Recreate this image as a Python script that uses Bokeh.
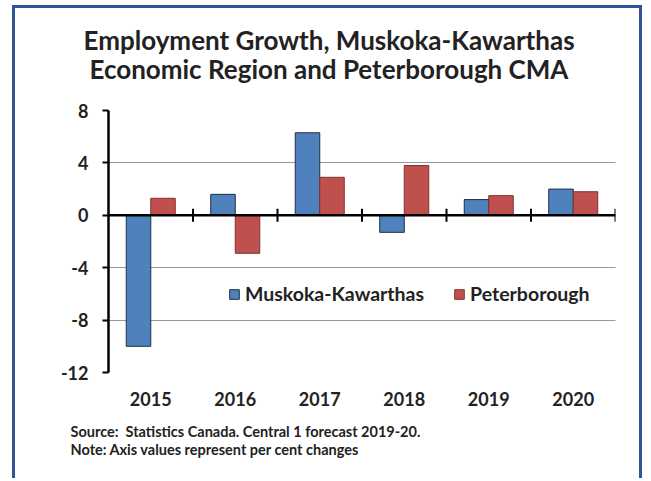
from bokeh.plotting import figure
from bokeh.models import (ColumnDataSource, FactorRange, FixedTicker, Span, Title,
                          Legend, LegendItem)
from bokeh.transform import dodge
from bokeh.embed import file_html
from bokeh.resources import INLINE

# Employment growth, per cent change
years = ["2015", "2016", "2017", "2018", "2019", "2020"]
muskoka = [-10.0, 1.6, 6.3, -1.3, 1.2, 2.0]
peterborough = [1.3, -2.9, 2.9, 3.8, 1.5, 1.8]
y_ticks = [-12, -8, -4, 0, 4, 8]
series_names = ["Muskoka-Kawarthas", "Peterborough"]
title_lines = ["Employment Growth, Muskoka-Kawarthas",
               "Economic Region and Peterborough CMA"]
notes = ["Source:\u00a0 Statistics Canada. Central 1 forecast 2019-20.",
         "Note: Axis values represent per cent changes"]

FONT = "Lato"
INK = "#222222"
BLUE, RED = "#4F81BD", "#C0504D"
FRAME_BLUE = "#2F5597"

# canvas sits inside an open-bottomed blue frame
W, H = 630, 473
LEFT, RIGHT, TOP, BOTTOM = 93, 600, 102, 364
Y0, Y1 = -12, 8

src = ColumnDataSource(dict(year=years, mk=muskoka, pb=peterborough))

p = figure(width=W, height=H, x_range=FactorRange(*years, range_padding=0),
           y_range=(Y0, Y1), output_backend="svg", toolbar_location=None,
           min_border_left=LEFT, min_border_right=W - RIGHT,
           min_border_top=TOP, min_border_bottom=H - BOTTOM)
p.margin = (5, 0, 0, 12)
p.styles = {"border-top": f"3px solid {FRAME_BLUE}",
            "border-left": f"3px solid {FRAME_BLUE}",
            "border-right": f"3px solid {FRAME_BLUE}"}
p.outline_line_color = None
p.background_fill_color = "white"
p.border_fill_color = "white"

bw = 0.29
r1 = p.vbar(x=dodge("year", -bw / 2, range=p.x_range), top="mk", bottom=0, width=bw,
            source=src, fill_color=BLUE, line_color="#1F2D44", line_width=1)
r2 = p.vbar(x=dodge("year", bw / 2, range=p.x_range), top="pb", bottom=0, width=bw,
            source=src, fill_color=RED, line_color="#7A3432", line_width=1)

# zero line with category separators
p.add_layout(Span(location=0, dimension="width", line_color="black", line_width=2.5))
bounds = list(range(1, len(years) + 1))
p.segment(x0=bounds, x1=bounds, y0=[-0.5] * len(bounds), y1=[0.5] * len(bounds),
          line_color="black", line_width=2)

# y axis
ya = p.yaxis[0]
ya.ticker = FixedTicker(ticks=y_ticks)
ya.major_label_overrides = {t: str(t) for t in y_ticks}
ya.axis_line_width = 2.5
ya.axis_line_color = "black"
ya.major_tick_out = 6
ya.major_tick_in = 0
ya.major_tick_line_width = 2
ya.minor_tick_line_color = None
ya.major_label_text_font = FONT
ya.major_label_text_font_style = "bold"
ya.major_label_text_font_size = "18px"
ya.major_label_text_color = INK
ya.major_label_standoff = 14

p.ygrid.ticker = FixedTicker(ticks=y_ticks)
p.ygrid.grid_line_color = "#333333"
p.ygrid.grid_line_dash = "1 1"
p.ygrid.grid_line_width = 1
p.xgrid.grid_line_color = None

# x axis: year labels only
xa = p.xaxis[0]
xa.axis_line_color = None
xa.major_tick_line_color = None
xa.minor_tick_line_color = None
xa.major_label_text_font = FONT
xa.major_label_text_font_style = "bold"
xa.major_label_text_font_size = "18px"
xa.major_label_text_color = INK
xa.major_label_standoff = 13

legend = Legend(items=[LegendItem(label=series_names[0], renderers=[r1]),
                       LegendItem(label=series_names[1], renderers=[r2])],
                orientation="horizontal", location=(120, 67),
                label_text_font=FONT, label_text_font_style="bold",
                label_text_font_size="19.5px", label_text_color=INK,
                glyph_width=12, glyph_height=12, label_standoff=5, spacing=29,
                padding=0, margin=0, border_line_color=None, background_fill_alpha=0)
p.add_layout(legend)

# two-line title, added from the frame outward
title_offsets = [-25, -19]
title_standoffs = [-62, 52]
for t, off, so in reversed(list(zip(title_lines, title_offsets, title_standoffs))):
    p.add_layout(Title(text=t, align="left", offset=off, text_font=FONT,
                       text_font_style="bold", text_font_size="26px",
                       text_color=INK, standoff=so), "above")

# source and note lines under the year labels
note_standoffs = [24, -22]
note_valign = ["bottom", "top"]
for t, so, va in zip(notes, note_standoffs, note_valign):
    p.add_layout(Title(text=t, align="left", offset=-38, text_font=FONT,
                       text_font_style="bold", text_font_size="14.5px",
                       text_color=INK, standoff=so, vertical_align=va), "below")

open("out.html", "w").write(file_html(p, INLINE))
